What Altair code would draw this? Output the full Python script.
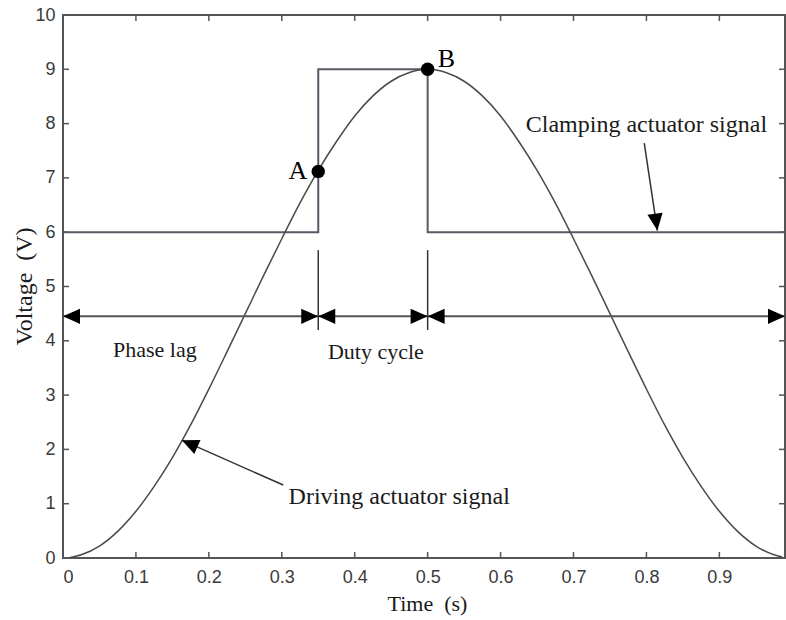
import altair as alt
import pandas as pd

# ---------------- data ----------------
# Driving actuator signal
drive_t = [0.01, 0.025, 0.05, 0.075, 0.1, 0.125, 0.15, 0.175, 0.2, 0.225,
           0.25, 0.275, 0.3, 0.325, 0.35, 0.375, 0.4, 0.425, 0.45, 0.475,
           0.5, 0.525, 0.55, 0.575, 0.6, 0.625, 0.65, 0.675, 0.7, 0.725,
           0.75, 0.775, 0.8, 0.825, 0.85, 0.875, 0.9, 0.925, 0.95, 0.975, 0.986]
drive_v = [0.01, 0.06, 0.22, 0.49, 0.86, 1.32, 1.85, 2.45, 3.11, 3.80,
           4.50, 5.20, 5.88, 6.54, 7.14, 7.67, 8.14, 8.51, 8.78, 8.94,
           9.00, 8.94, 8.78, 8.51, 8.14, 7.67, 7.14, 6.54, 5.88, 5.20,
           4.50, 3.80, 3.11, 2.45, 1.85, 1.32, 0.86, 0.49, 0.22, 0.06, 0.02]

# Clamping actuator signal (square wave)
clamp_t = [0.0, 0.35, 0.35, 0.5, 0.5, 0.99]
clamp_v = [6, 6, 9, 9, 6, 6]

# Horizontal dimension arrow
arrow_y = 4.45
arrow_t = [0.0, 0.99]
head_left_t = [0.0, 0.35, 0.5]      # arrowheads pointing left
head_right_t = [0.35, 0.5, 0.99]    # arrowheads pointing right
marker_t = [0.35, 0.5]
marker_v_top = 5.67
marker_v_bot = 4.2

# Points A and B
pt_label = ["A", "B"]
pt_t = [0.35, 0.5]
pt_v = [7.12, 9.0]

# Text annotations
ann_text = ["Phase lag", "Duty cycle", "Clamping actuator signal", "Driving actuator signal"]
ann_t = [0.126, 0.429, 0.800, 0.461]
ann_v = [3.83, 3.79, 7.97, 1.13]

# Pointer arrows: (start, tip)
ptr_t1 = [0.797, 0.302]
ptr_v1 = [7.64, 1.344]
ptr_t2 = [0.815, 0.163]
ptr_v2 = [6.03, 2.17]
ptr_angle = [172, 294]

# Axis ticks
x_label_vals = [0, 0.1, 0.2, 0.3, 0.4, 0.5, 0.6, 0.7, 0.8, 0.9]
y_label_vals = [0, 1, 2, 3, 4, 5, 6, 7, 8, 9, 10]
x_tick_vals = [0.1, 0.2, 0.3, 0.4, 0.5, 0.6, 0.7, 0.8, 0.9]
y_tick_vals = [1, 2, 3, 4, 5, 6, 7, 8, 9]

x_title = "Time\u00a0\u00a0(s)"
y_title = "Voltage\u00a0\u00a0(V)"

# ---------------- chart ----------------
W, H = 722, 543
LINE = "#555555"
SERIF = "Liberation Serif"
SANS = "Liberation Sans"

xs = alt.Scale(domain=[0, 0.99], nice=False, zero=False)
ys = alt.Scale(domain=[0, 10], nice=False, zero=False)
x_axis = alt.Axis(values=x_label_vals, format=".1~f", labelPadding=10,
                  titleX=364, titleY=45, titleAlign="center", titleBaseline="middle",
                  titleFontSize=22)
y_axis = alt.Axis(values=y_label_vals, format="d", labelPadding=8,
                  titleX=-39, titleY=271, titleAngle=270, titleAlign="center",
                  titleBaseline="middle", titleFontSize=24)


def X(f="t"):
    return alt.X(f"{f}:Q", scale=xs, axis=x_axis, title=x_title)


def Y(f="v"):
    return alt.Y(f"{f}:Q", scale=ys, axis=y_axis, title=y_title)


drive_df = pd.DataFrame({"t": drive_t, "v": drive_v})
clamp_df = pd.DataFrame({"t": clamp_t, "v": clamp_v, "o": list(range(len(clamp_t)))})

drive = alt.Chart(drive_df).mark_line(color="#4a4a4a", strokeWidth=1.5, interpolate="monotone").encode(
    x=X(), y=Y())
clamp = alt.Chart(clamp_df).mark_line(color="#5a5a66", strokeWidth=2).encode(
    x=X(), y=Y(), order="o:Q")

arrow_df = pd.DataFrame({"t": [arrow_t[0]], "t2": [arrow_t[1]], "v": [arrow_y]})
arrow_line = alt.Chart(arrow_df).mark_rule(color=LINE, strokeWidth=2).encode(
    x=X(), x2="t2:Q", y=Y())

LEFT_HEAD = "M0,0L2,-0.9L2,0.9Z"
RIGHT_HEAD = "M0,0L-2,-0.9L-2,0.9Z"
UP_HEAD = "M0,0L-0.9,2L0.9,2Z"

hl_df = pd.DataFrame({"t": head_left_t, "v": [arrow_y] * len(head_left_t)})
hr_df = pd.DataFrame({"t": head_right_t, "v": [arrow_y] * len(head_right_t)})
heads_l = alt.Chart(hl_df).mark_point(shape=LEFT_HEAD, filled=True, color="black", opacity=1,
                                      size=289, strokeWidth=0).encode(x=X(), y=Y())
heads_r = alt.Chart(hr_df).mark_point(shape=RIGHT_HEAD, filled=True, color="black", opacity=1,
                                      size=289, strokeWidth=0).encode(x=X(), y=Y())

mk_df = pd.DataFrame({"t": marker_t, "v": [marker_v_top] * 2, "v2": [marker_v_bot] * 2})
markers = alt.Chart(mk_df).mark_rule(color="#333333", strokeWidth=1.5).encode(
    x=X(), y=Y(), y2="v2:Q")

pt_df = pd.DataFrame({"t": pt_t, "v": pt_v, "lab": pt_label})
points = alt.Chart(pt_df).mark_point(shape="circle", filled=True, color="black", opacity=1,
                                     size=180).encode(x=X(), y=Y())
lab_a = alt.Chart(pt_df.iloc[[0]]).mark_text(font=SERIF, fontSize=26, align="right",
                                             baseline="middle", dx=-11, dy=0, color="black").encode(
    x=X(), y=Y(), text="lab:N")
lab_b = alt.Chart(pt_df.iloc[[1]]).mark_text(font=SERIF, fontSize=26, align="left",
                                             baseline="alphabetic", dx=10, dy=-2, color="black").encode(
    x=X(), y=Y(), text="lab:N")

ann_df = pd.DataFrame({"t": ann_t, "v": ann_v, "txt": ann_text})
ann_small = alt.Chart(ann_df.iloc[:2]).mark_text(font=SERIF, fontSize=22, align="center",
                                                 baseline="middle", color="#1a1a1a").encode(
    x=X(), y=Y(), text="txt:N")
ann_big = alt.Chart(ann_df.iloc[2:]).mark_text(font=SERIF, fontSize=24, align="center",
                                               baseline="middle", color="#1a1a1a").encode(
    x=X(), y=Y(), text="txt:N")

ptr_df = pd.DataFrame({"t": ptr_t1, "v": ptr_v1, "t2": ptr_t2, "v2": ptr_v2, "ang": ptr_angle})
ptr_lines = alt.Chart(ptr_df).mark_rule(color="#333333", strokeWidth=1.5).encode(
    x=X(), y=Y(), x2="t2:Q", y2="v2:Q")
ptr_heads = alt.Chart(ptr_df).mark_point(shape=UP_HEAD, filled=True, color="black", opacity=1,
                                         size=289, strokeWidth=0).encode(
    x=X("t2"), y=Y("v2"), angle=alt.Angle("ang:Q", scale=None))

# inward ticks on all four sides
xt_df = pd.DataFrame({"t": x_tick_vals})
yt_df = pd.DataFrame({"v": y_tick_vals})
tick_b = alt.Chart(xt_df).mark_rule(color=LINE, strokeWidth=1.5).encode(
    x=X(), y=alt.value(H), y2=alt.value(H - 6))
tick_t = alt.Chart(xt_df).mark_rule(color=LINE, strokeWidth=1.5).encode(
    x=X(), y=alt.value(0), y2=alt.value(6))
tick_l = alt.Chart(yt_df).mark_rule(color=LINE, strokeWidth=1.5).encode(
    y=Y(), x=alt.value(0), x2=alt.value(6))
tick_r = alt.Chart(yt_df).mark_rule(color=LINE, strokeWidth=1.5).encode(
    y=Y(), x=alt.value(W), x2=alt.value(W - 6))

chart = alt.layer(
    tick_b, tick_t, tick_l, tick_r,
    clamp, drive, arrow_line, markers, heads_l, heads_r,
    ptr_lines, ptr_heads, points, lab_a, lab_b, ann_small, ann_big,
).properties(
    width=W, height=H,
    autosize=alt.AutoSizeParams(type="none"),
    padding={"left": 63, "top": 15, "right": 1, "bottom": 62},
    background="white",
).configure_view(
    stroke=LINE, strokeWidth=2,
).configure_axis(
    domain=False, grid=False, ticks=False, tickSize=0,
    labelFont=SANS, labelFontSize=18, labelColor="#3a3a3a",
    titleFont=SERIF, titleFontWeight="normal", titleColor="#1a1a1a",
)

chart.save("out.html", embed_options={"renderer": "svg", "actions": False})
